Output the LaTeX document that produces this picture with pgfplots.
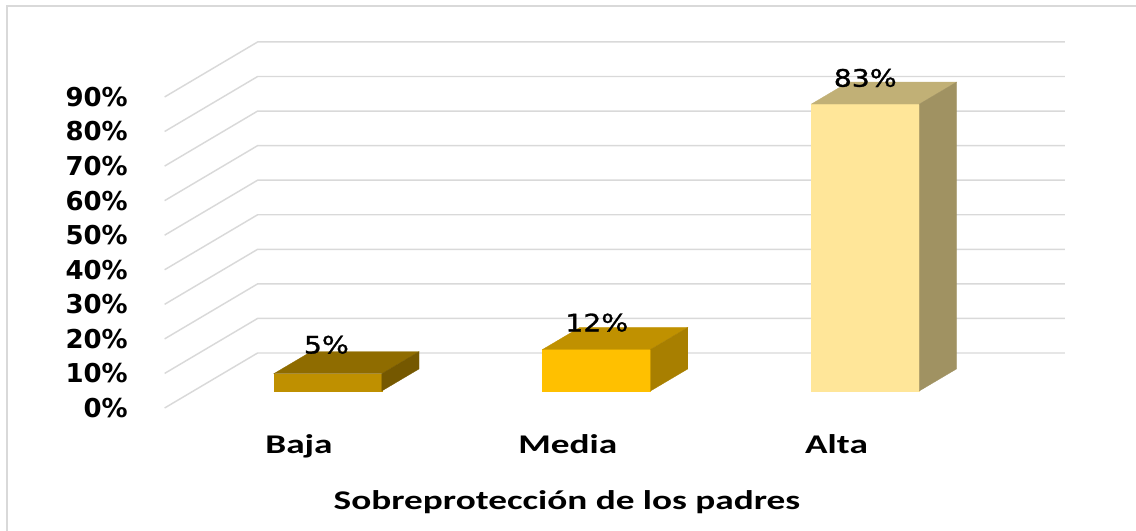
\documentclass[border=0pt]{standalone}
\usepackage{fontspec}
\usepackage{pgfplots}
\pgfplotsset{compat=1.18}
\newfontfamily\tickfont{DejaVu Sans}
\newfontfamily\catfont{Carlito}[FakeStretch=1.38]
\newfontfamily\datafont{DejaVu Sans}[FakeStretch=1.18,FakeBold=1.2]
\definecolor{gridc}{RGB}{217,217,217}
\definecolor{bajaF}{RGB}{191,144,0}
\definecolor{bajaT}{RGB}{143,108,0}
\definecolor{bajaS}{RGB}{117,88,0}
\definecolor{mediaF}{RGB}{255,192,0}
\definecolor{mediaT}{RGB}{192,145,0}
\definecolor{mediaS}{RGB}{168,127,0}
\definecolor{altaF}{RGB}{255,230,153}
\definecolor{altaT}{RGB}{193,176,118}
\definecolor{altaS}{RGB}{160,146,98}
\begin{document}
\begin{tikzpicture}
\begin{axis}[
  name=ax,
  scale only axis, width=852pt, height=398.25pt,
  xmin=-1.11256, xmax=3.11442, ymin=-35.590, ymax=118.056,
  clip=false,
  axis line style={draw=none}, tick style={draw=none}, major tick length=0pt,
  xtick={0,1,2}, xticklabels={Baja,Media,Alta},
  xticklabel style={anchor=base, yshift=57.75pt, inner sep=0pt,
    font=\catfont\bfseries\fontsize{20.25}{24}\selectfont},
  ytick={0,10,...,90},
  yticklabels={0\%,10\%,20\%,30\%,40\%,50\%,60\%,70\%,80\%,90\%},
  yticklabel style={anchor=east, xshift=96pt, inner sep=0pt,
    font=\tickfont\bfseries\fontsize{19.5}{23}\selectfont},
  xlabel={Sobreprotección de los padres},
  xlabel style={at={(axis description cs:0.4991,0.03955)}, anchor=base, inner sep=0pt,
    font=\catfont\bfseries\fontsize{20.25}{24}\selectfont},
]
% chart border
\draw[gridc, line width=1.6pt] (axis description cs:0.00616,0) |- (axis description cs:1,0.98870);
% walls grid (front-left edge, left wall, back wall)
\pgfplotsset{gl/.style={gridc, line width=1.1pt, mark=none, forget plot}}
\addplot[gl] coordinates {(-0.5,0) (-0.154,15.914) (2.85,15.914)};
\addplot[gl] coordinates {(-0.5,10) (-0.154,25.914) (2.85,25.914)};
\addplot[gl] coordinates {(-0.5,20) (-0.154,35.914) (2.85,35.914)};
\addplot[gl] coordinates {(-0.5,30) (-0.154,45.914) (2.85,45.914)};
\addplot[gl] coordinates {(-0.5,40) (-0.154,55.914) (2.85,55.914)};
\addplot[gl] coordinates {(-0.5,50) (-0.154,65.914) (2.85,65.914)};
\addplot[gl] coordinates {(-0.5,60) (-0.154,75.914) (2.85,75.914)};
\addplot[gl] coordinates {(-0.5,70) (-0.154,85.914) (2.85,85.914)};
\addplot[gl] coordinates {(-0.5,80) (-0.154,95.914) (2.85,95.914)};
\addplot[gl] coordinates {(-0.5,90) (-0.154,105.914) (2.85,105.914)};
% Baja 5%
\addplot[fill=bajaF, draw=bajaF, line width=0.2pt, mark=none, forget plot] coordinates {(-0.0937,4.933) (0.3083,4.933) (0.3083,9.933) (-0.0937,9.933)} -- cycle;
\addplot[fill=bajaT, draw=bajaT, line width=0.2pt, mark=none, forget plot] coordinates {(-0.0937,9.933) (0.3083,9.933) (0.4467,16.299) (0.0447,16.299)} -- cycle;
\addplot[fill=bajaS, draw=bajaS, line width=0.2pt, mark=none, forget plot] coordinates {(0.3083,4.933) (0.4467,11.299) (0.4467,16.299) (0.3083,9.933)} -- cycle;
% Media 12%
\addplot[fill=mediaF, draw=mediaF, line width=0.2pt, mark=none, forget plot] coordinates {(0.9063,4.933) (1.3083,4.933) (1.3083,16.933) (0.9063,16.933)} -- cycle;
\addplot[fill=mediaT, draw=mediaT, line width=0.2pt, mark=none, forget plot] coordinates {(0.9063,16.933) (1.3083,16.933) (1.4467,23.299) (1.0447,23.299)} -- cycle;
\addplot[fill=mediaS, draw=mediaS, line width=0.2pt, mark=none, forget plot] coordinates {(1.3083,4.933) (1.4467,11.299) (1.4467,23.299) (1.3083,16.933)} -- cycle;
% Alta 83%
\addplot[fill=altaF, draw=altaF, line width=0.2pt, mark=none, forget plot] coordinates {(1.9063,4.933) (2.3083,4.933) (2.3083,87.933) (1.9063,87.933)} -- cycle;
\addplot[fill=altaT, draw=altaT, line width=0.2pt, mark=none, forget plot] coordinates {(1.9063,87.933) (2.3083,87.933) (2.4467,94.299) (2.0447,94.299)} -- cycle;
\addplot[fill=altaS, draw=altaS, line width=0.2pt, mark=none, forget plot] coordinates {(2.3083,4.933) (2.4467,11.299) (2.4467,94.299) (2.3083,87.933)} -- cycle;
% data labels
\addplot[draw=none, mark=none, forget plot, point meta=explicit symbolic,
  nodes near coords={\pgfplotspointmeta\%},
  every node near coord/.style={anchor=center, inner sep=0pt, text=black,
    font=\datafont\fontsize{18}{21}\selectfont}]
  coordinates {(0.102,18.3)[5] (1.108,24.7)[12] (2.107,95.5)[83]};
\end{axis}
\pgfresetboundingbox
\path[use as bounding box] (ax.south west) rectangle (ax.north east);
\end{tikzpicture}
\end{document}
